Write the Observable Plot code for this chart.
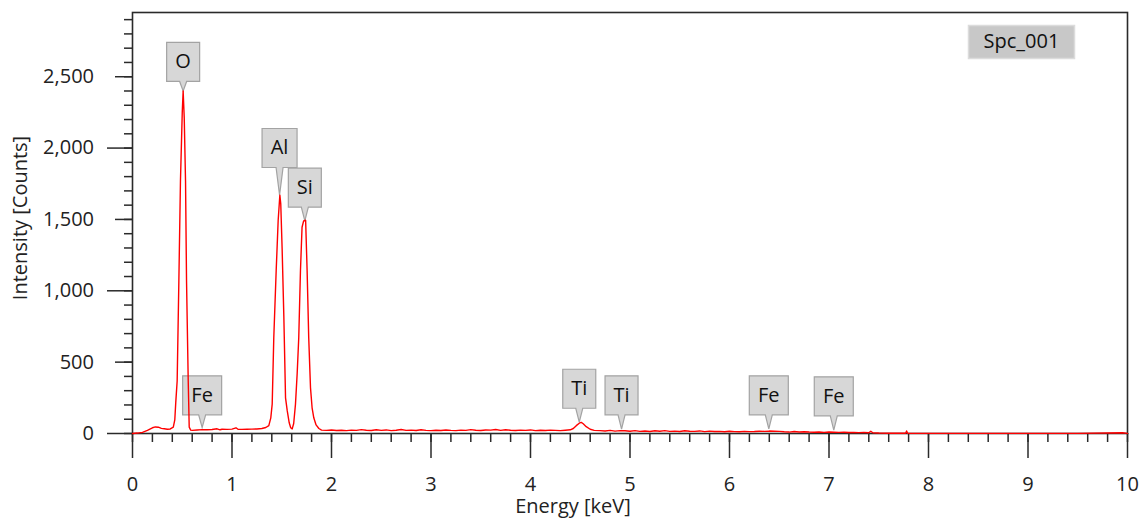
<!DOCTYPE html>
<html><head><meta charset="utf-8">
<script src="https://cdn.jsdelivr.net/npm/d3@7"></script>
<script src="https://cdn.jsdelivr.net/npm/@observablehq/plot@0.6"></script>
<style>body{margin:0;background:#fff;}</style>
</head><body><div id="chart"></div>
<script>
// ---- data ----
const energyKeV = [
  0, 0.05, 0.10, 0.15, 0.20, 0.23, 0.26, 0.29, 0.32, 0.35,
  0.38, 0.41, 0.425, 0.435, 0.449, 0.466, 0.482, 0.50, 0.509, 0.52,
  0.533, 0.543, 0.56, 0.57, 0.585, 0.60, 0.65, 0.70, 0.75, 0.80,
  0.85, 0.88, 0.90, 0.95, 1.00, 1.04, 1.06, 1.10, 1.15, 1.20,
  1.25, 1.30, 1.34, 1.37, 1.39, 1.404, 1.42, 1.444, 1.464, 1.481,
  1.49, 1.504, 1.521, 1.538, 1.555, 1.575, 1.59, 1.605, 1.62, 1.638,
  1.655, 1.671, 1.688, 1.704, 1.72, 1.74, 1.755, 1.771, 1.789, 1.805,
  1.822, 1.845, 1.873, 1.90, 1.95, 2.00, 2.05, 2.10, 2.15, 2.20,
  2.25, 2.30, 2.35, 2.40, 2.45, 2.50, 2.55, 2.60, 2.65, 2.70,
  2.75, 2.80, 2.85, 2.90, 2.95, 3.00, 3.05, 3.10, 3.15, 3.20,
  3.25, 3.30, 3.35, 3.40, 3.45, 3.50, 3.55, 3.60, 3.65, 3.70,
  3.75, 3.80, 3.85, 3.90, 3.95, 4.00, 4.05, 4.10, 4.15, 4.20,
  4.25, 4.30, 4.35, 4.40, 4.43, 4.46, 4.49, 4.51, 4.53, 4.56,
  4.60, 4.64, 4.70, 4.75, 4.80, 4.85, 4.90, 4.95, 5.00, 5.05,
  5.10, 5.15, 5.20, 5.25, 5.30, 5.35, 5.40, 5.45, 5.50, 5.55,
  5.60, 5.65, 5.70, 5.75, 5.80, 5.85, 5.90, 5.95, 6.00, 6.05,
  6.10, 6.15, 6.20, 6.25, 6.30, 6.35, 6.40, 6.45, 6.50, 6.55,
  6.60, 6.65, 6.70, 6.75, 6.80, 6.85, 6.90, 6.95, 7.00, 7.05,
  7.10, 7.15, 7.20, 7.25, 7.30, 7.35, 7.40, 7.42, 7.44, 7.50,
  7.60, 7.70, 7.77, 7.78, 7.79, 7.90, 8.00, 8.50, 9.00, 9.50,
  9.95, 10.0
];
const counts = [
  0, 3, 8, 22, 40, 46, 44, 36, 33, 30,
  32, 45, 95, 220, 370, 1070, 1770, 2250, 2400, 2210,
  1770, 1070, 370, 45, 24, 22, 25, 27, 26, 28,
  33, 26, 30, 29, 31, 40, 30, 29, 30, 31,
  32, 35, 42, 55, 110, 206, 673, 1141, 1492, 1670,
  1610, 1290, 820, 250, 160, 75, 40, 32, 70, 206,
  420, 673, 1141, 1445, 1490, 1495, 1141, 673, 320, 180,
  110, 60, 35, 24, 22, 25, 21, 23, 20, 24,
  22, 27, 23, 21, 26, 22, 25, 20, 23, 28,
  22, 24, 21, 26, 22, 20, 23, 21, 25, 22,
  20, 24, 22, 27, 23, 21, 25, 24, 28, 22,
  26, 23, 21, 24, 22, 25, 20, 23, 21, 24,
  22, 20, 23, 26, 35, 55, 72, 78, 68, 48,
  30, 22, 20, 18, 22, 17, 20, 19, 16, 20,
  15, 18, 14, 19, 16, 20, 15, 17, 14, 19,
  16, 15, 18, 13, 17, 14, 15, 12, 16, 13,
  12, 15, 13, 14, 16, 15, 17, 16, 15, 12,
  10, 14, 11, 12, 10, 9, 11, 8, 10, 9,
  8, 9, 7, 8, 6, 8, 5, 16, 5, 3,
  2, 2, 2, 18, 2, 1, 1, 1, 1, 1,
  5, 1
];
const peakLabels = ["O", "Fe", "Al", "Si", "Ti", "Ti", "Fe", "Fe"];
const peakEnergy = [0.509, 0.70, 1.478, 1.732, 4.49, 4.915, 6.395, 7.048];
const peakTipCounts = [2400, 42, 1670, 1490, 80, 31, 33, 24];
const peakBoxCounts = [2467, 131, 1864, 1586, 177, 131, 131, 124];
const xTickValues = [0, 1, 2, 3, 4, 5, 6, 7, 8, 9, 10];
const yTickValues = [0, 500, 1000, 1500, 2000, 2500];
const spectrumName = "Spc_001";
const xTitle = "Energy [keV]";
const yTitle = "Intensity [Counts]";

// ---- layout ----
const W = 1141, H = 520;
const mT = 12, mB = 87, mL = 132, mR = 14;
const yDomain = [0, 2950], xDomain = [0, 10];
const FONT = "'Open Sans', 'Noto Sans', sans-serif";
const axisColor = "#2a2a2a";
const boxH = 39;

const yScale = Plot.scale({y: {domain: yDomain, range: [H - mB, mT]}});
const measure = document.createElement("canvas").getContext("2d");
measure.font = "20px 'Open Sans'";

function calloutSymbol(w, h, L, hw) {
  return {draw(ctx) {
    ctx.moveTo(0, 0);
    ctx.lineTo(-hw, -L);
    ctx.lineTo(-w / 2, -L);
    ctx.lineTo(-w / 2, -L - h);
    ctx.lineTo(w / 2, -L - h);
    ctx.lineTo(w / 2, -L);
    ctx.lineTo(hw, -L);
    ctx.closePath();
  }};
}
function rectSymbol(w, h) {
  return {draw(ctx) { ctx.rect(-w / 2, -h / 2, w, h); }};
}

const idx = d3.range(energyKeV.length);

const calloutBoxes = [];
const calloutTexts = [];
peakLabels.forEach((lab, i) => {
  const L = yScale.apply(peakTipCounts[i]) - yScale.apply(peakBoxCounts[i]);
  const w = Math.round(measure.measureText(lab).width + 17);
  calloutBoxes.push(Plot.dot([i], {
    x: (j) => peakEnergy[j], y: (j) => peakTipCounts[j],
    symbol: calloutSymbol(w, boxH, L, 3.5),
    fill: "#d7d7d7", stroke: "#a3a3a3", strokeWidth: 1.2
  }));
  calloutTexts.push(Plot.text([i], {
    x: (j) => peakEnergy[j], y: (j) => peakTipCounts[j],
    text: (j) => peakLabels[j],
    dy: -(L + boxH / 2), fontSize: 20, fill: "#111", lineAnchor: "middle"
  }));
});

const chart = Plot.plot({
  width: W, height: H,
  marginTop: mT, marginBottom: mB, marginLeft: mL, marginRight: mR,
  style: {fontFamily: FONT, fontSize: "20px", color: "#222", background: "#fff"},
  x: {domain: xDomain},
  y: {domain: yDomain},
  marks: [
    // minor / major ticks
    Plot.axisX({ticks: d3.range(0, 51).map((k) => k / 5), tickSize: 9, tickFormat: () => "", label: null, stroke: axisColor, strokeWidth: 1.5}),
    Plot.axisX({ticks: xTickValues, tickSize: 25, tickFormat: () => "", label: null, stroke: axisColor, strokeWidth: 1.5}),
    Plot.axisX({ticks: xTickValues, tickSize: 0, tickPadding: 43.5, fontSize: 20, label: null, fill: "#222"}),
    Plot.axisY({ticks: d3.range(0, 30).map((k) => k * 100), tickSize: 8, tickFormat: () => "", label: null, stroke: axisColor, strokeWidth: 1.5}),
    Plot.axisY({ticks: [500, 1500, 2500], tickSize: 17, tickFormat: () => "", label: null, stroke: axisColor, strokeWidth: 1.5}),
    Plot.axisY({ticks: [0, 1000, 2000], tickSize: 25, tickFormat: () => "", label: null, stroke: axisColor, strokeWidth: 1.5}),
    Plot.axisY({ticks: yTickValues, tickSize: 0, tickPadding: 38.5, tickFormat: d3.format(","), fontSize: 20, label: null, fill: "#222"}),
    Plot.frame({stroke: axisColor, strokeWidth: 1.6}),
    // axis titles
    Plot.text([xTitle], {frameAnchor: "bottom", textAnchor: "middle", lineAnchor: "middle", dx: -57, dy: 73.5, fontSize: 20, fill: "#222"}),
    Plot.text([yTitle], {frameAnchor: "left", textAnchor: "middle", lineAnchor: "middle", rotate: -90, dx: -112, dy: -5, fontSize: 20, fill: "#222"}),
    // spectrum name tag
    Plot.dot([spectrumName], {frameAnchor: "top-right", dx: -106, dy: 29.5, symbol: rectSymbol(106, 33), fill: "#c8c8c8", stroke: "#dcdcdc"}),
    Plot.text([spectrumName], {frameAnchor: "top-right", dx: -106, dy: 29.5, textAnchor: "middle", lineAnchor: "middle", fontSize: 20, fill: "#111"}),
    ...calloutBoxes,
    Plot.line(idx, {x: (i) => energyKeV[i], y: (i) => counts[i], stroke: "#ff0000", strokeWidth: 1.4}),
    ...calloutTexts
  ]
});
document.getElementById("chart").appendChild(chart);
</script>
</body></html>
